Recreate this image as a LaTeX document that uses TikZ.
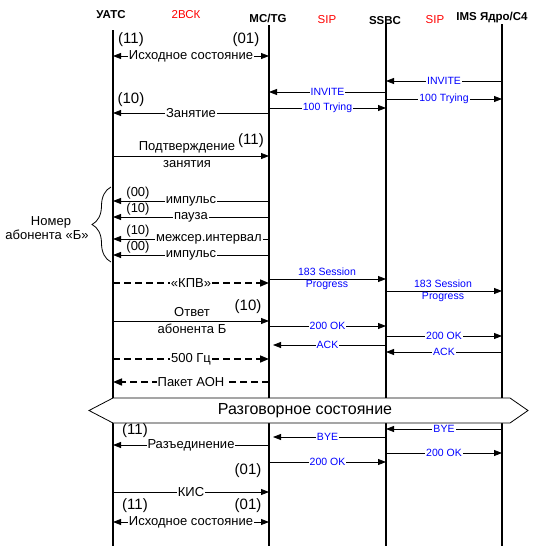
\documentclass[tikz,border=0pt]{standalone}
\usepackage{fontspec}
\setmainfont{Liberation Sans}
\usetikzlibrary{arrows.meta,decorations.pathreplacing}
\definecolor{sipblue}{RGB}{0,0,255}
\definecolor{sipred}{RGB}{255,0,0}
\begin{document}
\begin{tikzpicture}[x=1pt,y=-1pt,
 life/.style={line width=2.4pt},
 msg/.style={line width=0.8pt,-{Triangle[length=8pt,width=6pt]}},
 dmsg/.style={line width=1.6pt,dash pattern=on 7pt off 4pt,-{Triangle[length=9pt,width=7pt]}},
 bidir/.style={line width=0.8pt,{Triangle[length=8pt,width=6pt]}-{Triangle[length=8pt,width=6pt]}},
 lbl/.style={fill=white,inner sep=1pt,font=\fontsize{13}{14}\selectfont},
 txt/.style={inner sep=0pt,font=\fontsize{13}{14}\selectfont},
 code/.style={inner sep=0pt,font=\fontsize{15}{16}\selectfont},
 sip/.style={fill=white,inner sep=1pt,text=sipblue,font=\fontsize{10.5}{12}\selectfont},
 siptxt/.style={inner sep=0pt,text=sipblue,font=\fontsize{10.5}{12}\selectfont},
 head/.style={font=\bfseries\fontsize{11.5}{12}\selectfont,inner sep=0pt},
 proto/.style={text=sipred,font=\fontsize{11.5}{12}\selectfont,inner sep=0pt},
 bigtxt/.style={inner sep=0pt,font=\fontsize{16}{18}\selectfont},
]
\useasboundingbox (0,0) rectangle (533,549);

% headers
\node[head] (hU) at (111,15) {УАТС};
\node[head] (hM) at (268,18) {MC/TG};
\node[head] (hS) at (385,21) {SSBC};
\node[head] (hI) at (492,18) {IMS Ядро/С4};
\node[proto] (p1) at (186,15) {2ВСК};
\node[proto] (p2) at (327,20) {SIP};
\node[proto] (p3) at (435,20) {SIP};

% lifeline coordinates
\coordinate (U) at (113,0);
\coordinate (M) at (269,0);
\coordinate (S) at (386,0);
\coordinate (I) at (502,0);
\coordinate (Ut) at (113,30); \coordinate (Ub) at (113,546);
\coordinate (Mt) at (269,25); \coordinate (Mb) at (269,546);
\coordinate (St) at (386,24); \coordinate (Sb) at (386,546);
\coordinate (It) at (502,24); \coordinate (Ib) at (502,546);
\draw[life] (Ut) -- (Ub);
\draw[life] (Mt) -- (Mb);
\draw[life] (St) -- (Sb);
\draw[life] (It) -- (Ib);

% initial state
\node[code] (c1) at (131,40) {(11)};
\node[code] (c2) at (246,40) {(01)};
\draw[bidir] (U|-0,56) -- node[lbl] (l1) {Исходное состояние} (M|-0,56);

\draw[msg] (I|-0,81) -- node[sip] (l2) {INVITE} (S|-0,81);
\draw[msg] (S|-0,92) -- node[sip] (l3) {INVITE} (M|-0,92);
\draw[msg] (S|-0,99) -- node[sip] (l4) {100 Trying} (I|-0,99);
\draw[msg] (M|-0,108) -- node[sip] (l5) {100 Trying} (S|-0,108);

\node[code] (c3) at (131,100) {(10)};
\draw[msg] (M|-0,113) -- node[lbl] (l6) {Занятие} (U|-0,113);

\node[code] (c4) at (251,141) {(11)};
\draw[msg] (U|-0,156) -- (M|-0,156);
\node[txt] (l7) at (187,147) {Подтверждение};
\node[txt] (l8) at (187,164) {занятия};

% dialling
\node[txt] (c5) at (138,193) {(00)};
\draw[msg] (M|-0,201) -- node[lbl] (l9) {импульс} (U|-0,201);
\node[txt] (c6) at (138,209) {(10)};
\draw[msg] (M|-0,217) -- node[lbl] (l10) {пауза} (U|-0,217);
\node[txt] (c7) at (138,231) {(10)};
\draw[msg] (M|-0,239) -- node[lbl,pos=0.385] (l11) {межсер.интервал} (U|-0,239);
\node[txt] (c8) at (138,247) {(00)};
\draw[msg] (M|-0,255) -- node[lbl] (l12) {импульс} (U|-0,255);

\coordinate (b1) at (111,262);
\coordinate (b2) at (111,187);
\draw[line width=0.8pt,decorate,decoration={brace,amplitude=19pt}] (b1) -- (b2);
\node[txt] (n1) at (51,222) {Номер};
\node[txt] (n2) at (47,235) {абонента «Б»};

% answer supervision
\draw[dmsg] (U|-0,283) -- node[lbl] (l13) {«КПВ»} (M|-0,283);
\draw[msg] (M|-0,279) -- (S|-0,279);
\node[siptxt] (l14) at (327,272) {183 Session};
\node[siptxt] (l15) at (327,285) {Progress};
\draw[msg] (S|-0,291) -- (I|-0,291);
\node[siptxt] (l16) at (443,284) {183 Session};
\node[siptxt] (l17) at (443,297) {Progress};

\node[txt] (l18) at (192,312) {Ответ};
\node[code] (c9) at (248,307) {(10)};
\draw[msg] (U|-0,321) -- (M|-0,321);
\node[txt] (l19) at (192,329) {абонента Б};

\draw[msg] (M|-0,326) -- node[sip] (l20) {200 OK} (S|-0,326);
\draw[msg] (S|-0,336) -- node[sip] (l21) {200 OK} (I|-0,336);
\draw[msg,shorten >=4pt] (S|-0,345) -- node[sip] (l22) {ACK} (M|-0,345);
\draw[msg] (I|-0,352) -- node[sip] (l23) {ACK} (S|-0,352);

\draw[dmsg] (U|-0,359) -- node[lbl] (l24) {500 Гц} (M|-0,359);
\draw[dmsg] (M|-0,382) -- node[lbl] (l25) {Пакет АОН} (U|-0,382);

% conversation state
\draw[line width=0.8pt,fill=white] (89,410.5) -- (113,398) -- (510,398) -- (528,410.5) -- (510,423) -- (113,423) -- cycle;
\node[bigtxt] (conv) at (305,410.5) {Разговорное состояние};

% release
\node[code] (c10) at (135,431) {(11)};
\draw[msg] (I|-0,429) -- node[sip] (l26) {BYE} (S|-0,429);
\draw[msg,shorten >=4pt] (S|-0,437) -- node[sip] (l27) {BYE} (M|-0,437);
\draw[msg] (M|-0,445) -- node[lbl] (l28) {Разъединение} (U|-0,445);
\draw[msg] (S|-0,453) -- node[sip] (l29) {200 OK} (I|-0,453);
\draw[msg] (M|-0,462) -- node[sip] (l30) {200 OK} (S|-0,462);

\node[code] (c11) at (248,471) {(01)};
\draw[msg] (U|-0,492) -- node[lbl] (l31) {КИС} (M|-0,492);
\node[code] (c12) at (135,506) {(11)};
\node[code] (c13) at (248,506) {(01)};
\draw[bidir] (U|-0,522) -- node[lbl] (l32) {Исходное состояние} (M|-0,522);
\end{tikzpicture}
\end{document}
